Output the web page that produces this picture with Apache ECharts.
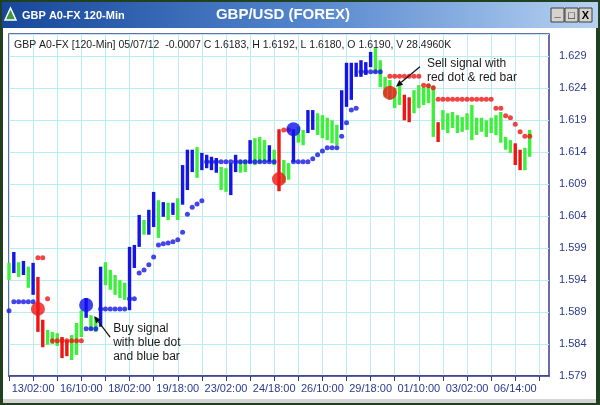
<!DOCTYPE html>
<html><head><meta charset="utf-8">
<script src="https://cdn.jsdelivr.net/npm/echarts@6/dist/echarts.min.js"></script>
<style>html,body{margin:0;padding:0;background:#fff}#c{width:600px;height:405px}</style>
</head><body><div id="c"></div>
<script>
// ---- data (4-hour steps) ----
const tickLabels = ['13/02:00','16/10:00','18/02:00','19/18:00','23/02:00','24/18:00','26/10:00','29/18:00','01/10:00','03/02:00','06/14:00'];
const highs = [1.5967,1.5984,1.5968,1.5970,1.5961,1.5967,1.5945,1.5878,1.5862,1.5859,
1.5857,1.5851,1.5846,1.5854,1.5873,1.5893,1.5912,1.5885,1.5882,1.5961,
1.5968,1.5956,1.5948,1.5940,1.5936,1.5992,1.5995,1.6042,1.6034,1.6050,
1.6078,1.6065,1.6062,1.6061,1.6061,1.6068,1.6120,1.6144,1.6144,1.6148,
1.6139,1.6136,1.6133,1.6131,1.6117,1.6115,1.6123,1.6136,1.6128,1.6128,
1.6159,1.6162,1.6164,1.6159,1.6151,1.6144,1.6176,1.6128,1.6123,1.6176,
1.6180,1.6175,1.6206,1.6206,1.6201,1.6198,1.6194,1.6190,1.6183,1.6237,
1.6280,1.6280,1.6280,1.6284,1.6281,1.6297,1.6303,1.6284,1.6258,1.6253,
1.6241,1.6245,1.6230,1.6226,1.6237,1.6245,1.6242,1.6247,1.6244,1.6187,
1.6206,1.6201,1.6203,1.6198,1.6195,1.6201,1.6214,1.6194,1.6194,1.6190,
1.6194,1.6198,1.6203,1.6164,1.6159,1.6154,1.6144,1.6147,1.6175];
const lows = [1.5940,1.5951,1.5945,1.5948,1.5928,1.5917,1.5859,1.5835,1.5839,1.5840,
1.5837,1.5818,1.5821,1.5815,1.5823,1.5851,1.5881,1.5862,1.5859,1.5867,
1.5932,1.5925,1.5917,1.5912,1.5909,1.5893,1.5959,1.5992,1.6011,1.6011,
1.6023,1.6006,1.6039,1.6034,1.6042,1.6034,1.6058,1.6081,1.6109,1.6100,
1.6112,1.6115,1.6112,1.6108,1.6081,1.6078,1.6073,1.6109,1.6108,1.6109,
1.6123,1.6120,1.6123,1.6125,1.6125,1.6120,1.6079,1.6092,1.6097,1.6125,
1.6155,1.6151,1.6170,1.6175,1.6167,1.6162,1.6159,1.6154,1.6151,1.6175,
1.6211,1.6222,1.6258,1.6258,1.6261,1.6273,1.6264,1.6242,1.6226,1.6222,
1.6209,1.6214,1.6190,1.6187,1.6201,1.6209,1.6214,1.6217,1.6164,1.6156,
1.6175,1.6170,1.6178,1.6170,1.6172,1.6175,1.6159,1.6167,1.6172,1.6164,
1.6170,1.6167,1.6155,1.6144,1.6139,1.6120,1.6112,1.6112,1.6133];
const barColors = ['G','B','G','B','G','B','R','R','G','G',
'G','R','R','G','G','G','B','G','G','B',
'G','G','G','G','G','B','B','B','G','B',
'B','G','B','G','B','G','B','B','B','G',
'B','B','B','B','G','G','B','B','G','G',
'B','G','G','G','B','G','R','G','G','B',
'G','G','B','B','G','G','G','G','G','B',
'B','B','B','B','B','B','G','G','G','G',
'G','G','R','R','G','G','G','G','G','R',
'G','G','G','G','G','G','G','G','G','G',
'G','G','G','G','G','R','R','G','G'];
const blueDots = [1.5892,1.5906,1.5906,1.5906,1.5906,1.5906,null,null,null,null,
null,null,null,null,null,null,1.5864,1.5864,1.5864,1.5895,
1.5895,1.5895,1.5895,1.5895,1.5895,1.5911,1.5911,1.5951,1.5956,1.5964,
1.5976,1.5995,1.5997,1.5998,1.6000,1.6003,1.6015,1.6043,1.6054,1.6059,
1.6064,1.6125,1.6125,1.6125,1.6125,1.6125,1.6125,1.6125,1.6125,1.6125,
1.6125,1.6125,1.6125,1.6125,1.6125,1.6125,null,null,null,1.6125,
1.6125,1.6125,1.6125,1.6130,1.6136,1.6142,1.6147,1.6147,1.6147,1.6165,
1.6186,1.6206,1.6209,1.6266,1.6266,1.6266,1.6266,1.6266,null,null];
const redDots = [null,null,null,null,null,null,1.5975,1.5975,1.5911,1.5845,
1.5845,1.5845,1.5845,1.5845,1.5845,1.5845,null,null,null,null,
null,null,null,null,null,null,null,null,null,null,
null,null,null,null,null,null,null,null,null,null,
null,null,null,null,null,null,null,null,null,null,
null,null,null,null,null,null,null,1.6175,1.6175,null,
null,null,null,null,null,null,null,null,null,null,
null,null,null,null,null,null,null,null,null,1.6259,
1.6259,1.6259,1.6259,1.6259,1.6259,1.6259,1.6245,1.6244,1.6241,1.6223,
1.6223,1.6223,1.6223,1.6223,1.6223,1.6223,1.6223,1.6223,1.6223,1.6223,
1.6223,1.6209,1.6209,1.6197,1.6194,1.6184,1.6172,1.6165,1.6165];
const buyIdx = [16, 59];
const buyPrice = [1.5901, 1.6176];
const sellIdx = [6, 56, 79];
const sellPrice = [1.5895, 1.6098, 1.6233];
const lastPrice = 1.6165;
const headerText = 'GBP A0-FX [120-Min] 05/07/12  -0.0007 C 1.6183, H 1.6192, L 1.6180, O 1.6190, V 28.4960K';

// ---- build ----
const NCAT = 113;
const labelAt = {};
tickLabels.forEach((t, k) => { labelAt[5 + 10 * k] = t; });
const categories = [];
for (let i = 0; i < NCAT; i++) categories.push(labelAt[i] || '');
const colorMap = { B: '#1515e6', G: '#3cf03c', R: '#ee1515' };
const barData = highs.map((h, i) => [i, h, lows[i]]);
const blueData = [], redData = [];
blueDots.forEach((v, i) => { if (v != null) blueData.push([i, v]); });
redDots.forEach((v, i) => { if (v != null) redData.push([i, v]); });
const buyData = buyIdx.map((i, k) => [i, buyPrice[k]]);
const sellData = sellIdx.map((i, k) => [i, sellPrice[k]]);

const NAVY = '#2b3a8c';
const FONT = 'Liberation Sans, Arial, sans-serif';
const chart = echarts.init(document.getElementById('c'));

const chrome = [
  { type: 'rect', z: -30, shape: { x: 0, y: 0, width: 600, height: 405 }, style: { fill: '#21401f' } },
  { type: 'rect', z: -29, shape: { x: 2, y: 2, width: 596, height: 26 },
    style: { fill: new echarts.graphic.LinearGradient(0, 0, 1, 0, [
      { offset: 0, color: '#16479a' }, { offset: 0.5, color: '#5284cc' }, { offset: 1, color: '#b6d2f2' }]) } },
  { type: 'rect', z: -29, shape: { x: 3, y: 28, width: 593, height: 371 }, style: { fill: '#ffffff' } },
  { type: 'rect', z: -29, shape: { x: 3, y: 399, width: 593, height: 4 }, style: { fill: '#d4d4d4' } },
  { type: 'polygon', z: 5, shape: { points: [[5, 20], [10.5, 8], [16, 20]] }, style: { fill: '#3d9a3d', stroke: '#ffffff', lineWidth: 1.5 } },
  { type: 'text', z: 5, style: { text: 'GBP A0-FX 120-Min', x: 22, y: 16, fill: '#ffffff', font: 'bold 11px ' + FONT, textVerticalAlign: 'middle' } },
  { type: 'text', z: 5, style: { text: 'GBP/USD (FOREX)', x: 283, y: 15, fill: '#ffffff', font: 'bold 15px ' + FONT, textAlign: 'center', textVerticalAlign: 'middle' } }
];
['_', '\u25a1', 'X'].forEach((g, k) => {
  const bx = 551 + k * 14;
  chrome.push({ type: 'rect', z: 5, shape: { x: bx, y: 8, width: 13, height: 14 }, style: { fill: '#d6d3ce', stroke: '#404040', lineWidth: 1 } });
  chrome.push({ type: 'text', z: 6, style: { text: g, x: bx + 6.5, y: k === 0 ? 13 : 15.5, fill: '#000', font: 'bold 11px ' + FONT, textAlign: 'center', textVerticalAlign: 'middle' } });
});
chrome.push({ type: 'text', z: 5, style: { text: headerText, x: 14, y: 45, fill: '#1c1c1c', font: '10.5px ' + FONT, textVerticalAlign: 'middle' } });

chart.setOption({
  animation: false,
  backgroundColor: '#ffffff',
  graphic: chrome,
  grid: { left: 9, top: 34, width: 540, height: 342, show: true, borderColor: '#3b3b8e', borderWidth: 1.5, backgroundColor: 'transparent' },
  xAxis: {
    type: 'category', data: categories, boundaryGap: false,
    axisLine: { show: true, lineStyle: { color: '#3b3b8e', width: 1.5 } },
    axisTick: { show: true, interval: (i) => i % 5 === 0, length: 5, lineStyle: { color: NAVY } },
    axisLabel: { interval: (i) => labelAt[i] !== undefined, color: NAVY, fontSize: 11, fontFamily: FONT, margin: 7 },
    splitLine: { show: true, interval: (i) => i % 5 === 0, lineStyle: { color: '#b9eeee', width: 1 } }
  },
  yAxis: {
    type: 'value', position: 'right', min: 1.579, max: 1.6325, interval: 0.005,
    axisLine: { show: false }, axisTick: { show: false },
    axisLabel: { color: NAVY, fontSize: 11, fontFamily: FONT, margin: 10, showMaxLabel: false, formatter: (v) => v.toFixed(3) },
    splitLine: { show: true, lineStyle: { color: '#b9eeee', width: 1 } }
  },
  series: [
    {
      type: 'custom', data: barData, encode: { x: 0, y: [1, 2] }, z: 3,
      renderItem: (params, api) => {
        const i = api.value(0);
        const t = api.coord([i, api.value(1)]);
        const b = api.coord([i, api.value(2)]);
        return { type: 'rect', shape: { x: t[0] - 1.7, y: t[1], width: 3.4, height: Math.max(1, b[1] - t[1]) },
                 style: { fill: colorMap[barColors[params.dataIndex]] } };
      },
      markLine: {
        silent: true, symbol: 'none', data: [{ yAxis: lastPrice }],
        lineStyle: { opacity: 0 },
        label: { position: 'end', distance: 4, formatter: lastPrice.toFixed(4), color: '#ffffff', backgroundColor: '#e8161c',
                 padding: [2, 2, 2, 2], fontSize: 11, fontFamily: FONT }
      }
    },
    { type: 'scatter', data: blueData, symbolSize: 5, itemStyle: { color: '#1515e6' }, z: 4 },
    { type: 'scatter', data: redData, symbolSize: 5, itemStyle: { color: '#ee1515' }, z: 4 },
    { type: 'scatter', data: buyData, symbolSize: 14, itemStyle: { color: '#1010f0' }, z: 6 },
    { type: 'scatter', data: sellData, symbolSize: 14, itemStyle: { color: '#f01818' }, z: 6 }
  ]
});

// annotations anchored to signal points
function arrow(x1, y1, x2, y2) {
  const a = Math.atan2(y2 - y1, x2 - x1), L = 7, w = 3;
  const bx = x2 - L * Math.cos(a), by = y2 - L * Math.sin(a);
  return [
    { type: 'line', z: 10, shape: { x1: x1, y1: y1, x2: bx, y2: by }, style: { stroke: '#111', lineWidth: 1.2 } },
    { type: 'polygon', z: 10, shape: { points: [[x2, y2], [bx + w * Math.sin(a), by - w * Math.cos(a)], [bx - w * Math.sin(a), by + w * Math.cos(a)]] }, style: { fill: '#111' } }
  ];
}
const bp = chart.convertToPixel({ gridIndex: 0 }, [buyIdx[0], buyPrice[0]]);
const sp = chart.convertToPixel({ gridIndex: 0 }, [sellIdx[2], sellPrice[2]]);
const ann = [].concat(
  arrow(bp[0] + 24, bp[1] + 32, bp[0] + 8, bp[1] + 11),
  [{ type: 'text', z: 10, style: { text: 'Buy signal\nwith blue dot\nand blue bar', x: bp[0] + 27, y: bp[1] + 17, fill: '#1a1a1a', font: '12px ' + FONT, lineHeight: 14 } }],
  arrow(sp[0] + 30, sp[1] - 26, sp[0] + 6, sp[1] - 6),
  [{ type: 'text', z: 10, style: { text: 'Sell signal with\nred dot & red bar', x: sp[0] + 37, y: sp[1] - 36, fill: '#1a1a1a', font: '12px ' + FONT, lineHeight: 14 } }]
);
chart.setOption({ graphic: chrome.concat(ann) });
</script></body></html>
